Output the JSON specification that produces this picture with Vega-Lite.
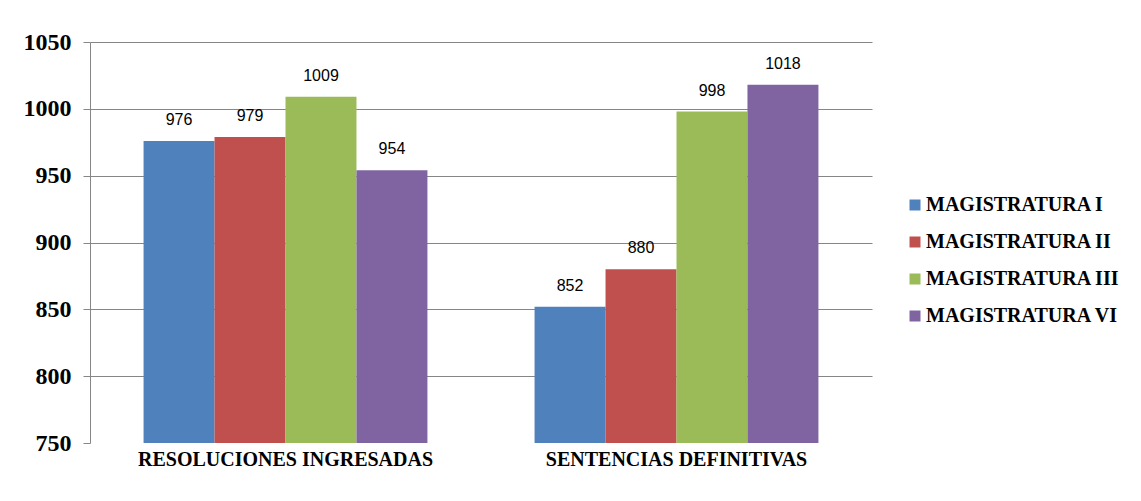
{
  "$schema": "https://vega.github.io/schema/vega-lite/v6.json",
  "width": 782,
  "height": 401,
  "autosize": {"type": "none"},
  "padding": {"left": 90, "top": 42, "right": 269, "bottom": 58},
  "background": "white",
  "config": {"view": {"stroke": null}},
  "data": {
    "values": [
      {"categoria": "RESOLUCIONES INGRESADAS", "serie": "MAGISTRATURA I", "valor": 976},
      {"categoria": "RESOLUCIONES INGRESADAS", "serie": "MAGISTRATURA II", "valor": 979},
      {"categoria": "RESOLUCIONES INGRESADAS", "serie": "MAGISTRATURA III", "valor": 1009},
      {"categoria": "RESOLUCIONES INGRESADAS", "serie": "MAGISTRATURA VI", "valor": 954},
      {"categoria": "SENTENCIAS DEFINITIVAS", "serie": "MAGISTRATURA I", "valor": 852},
      {"categoria": "SENTENCIAS DEFINITIVAS", "serie": "MAGISTRATURA II", "valor": 880},
      {"categoria": "SENTENCIAS DEFINITIVAS", "serie": "MAGISTRATURA III", "valor": 998},
      {"categoria": "SENTENCIAS DEFINITIVAS", "serie": "MAGISTRATURA VI", "valor": 1018}
    ]
  },
  "encoding": {
    "x": {
      "field": "categoria",
      "type": "nominal",
      "sort": null,
      "title": null,
      "scale": {"paddingInner": 0.274, "paddingOuter": 0.137},
      "axis": {
        "labelAngle": 0,
        "labelFont": "Liberation Serif",
        "labelFontWeight": "bold",
        "labelFontSize": 20,
        "labelColor": "black",
        "labelPadding": 6,
        "labelLimit": 0,
        "domain": false,
        "ticks": false
      }
    },
    "xOffset": {"field": "serie", "type": "nominal", "sort": null},
    "y": {
      "field": "valor",
      "type": "quantitative",
      "title": null,
      "scale": {"domain": [750, 1050], "zero": false, "nice": false},
      "axis": {
        "values": [750, 800, 850, 900, 950, 1000, 1050],
        "format": "d",
        "labelFont": "Liberation Serif",
        "labelFontWeight": "bold",
        "labelFontSize": 24,
        "labelColor": "black",
        "labelPadding": 12,
        "tickSize": 7,
        "tickColor": "#868686",
        "domainColor": "#868686",
        "gridColor": {"condition": {"test": "datum.value == 750", "value": "transparent"}, "value": "#868686"},
        "gridWidth": 1,
        "grid": true
      }
    }
  },
  "layer": [
    {
      "mark": {"type": "bar", "clip": true},
      "encoding": {
        "color": {
          "field": "serie",
          "type": "nominal",
          "sort": null,
          "title": null,
          "scale": {
            "domain": ["MAGISTRATURA I", "MAGISTRATURA II", "MAGISTRATURA III", "MAGISTRATURA VI"],
            "range": ["#4F81BD", "#C0504D", "#9BBB59", "#8064A2"]
          },
          "legend": {
            "orient": "none",
            "legendX": 815,
            "legendY": 153,
            "symbolType": "square",
            "symbolSize": 121,
            "symbolStrokeWidth": 0,
            "labelFont": "Liberation Serif",
            "labelFontWeight": "bold",
            "labelFontSize": 20,
            "labelColor": "black",
            "labelOffset": 1,
            "labelLimit": 300,
            "rowPadding": 17
          }
        }
      }
    },
    {
      "mark": {"type": "text", "baseline": "bottom", "dy": -13, "font": "Liberation Sans", "fontSize": 16, "color": "black"},
      "encoding": {
        "text": {"field": "valor", "type": "quantitative"}
      }
    }
  ]
}
